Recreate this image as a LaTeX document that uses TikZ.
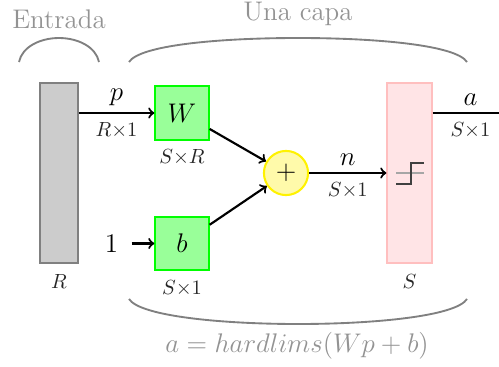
\documentclass[tikz,border=0pt]{standalone}
\usepackage{xcolor}
\usepackage{tikz}
\usetikzlibrary{positioning}
\definecolor{weightgreen}{RGB}{153, 255, 153}
\definecolor{sumyellow}{RGB}{255, 250, 170}
\definecolor{stepred}{RGB}{255, 228, 230}
\newcommand{\bigsize}{\fontsize{14.4}{18}\selectfont}
\newcommand{\smallsize}{\fontsize{10.95}{13}\selectfont}

\begin{document}
\begin{tikzpicture}[
    x=0.0188cm, y=-0.0188cm,
    node distance=0.1cm,
    inputbar/.style={rectangle, draw=gray, line width=1.1pt, fill=gray!40, minimum width=0.7cm, minimum height=3.4cm, inner sep=0pt},
    hardbar/.style={rectangle, draw=red!25, line width=1.1pt, fill=stepred, minimum width=0.83cm, minimum height=3.4cm, inner sep=0pt},
    weightbox/.style={rectangle, draw=green, line width=1.1pt, fill=weightgreen, minimum size=1cm, inner sep=0pt, font=\bigsize},
    sumnode/.style={circle, draw=yellow, line width=1.1pt, fill=sumyellow, minimum size=0.83cm, inner sep=0pt, font=\bigsize},
    arrow/.style={line width=1.15pt, ->},
    sizelabel/.style={font=\smallsize, inner sep=1pt, text=black!85},
    varlabel/.style={font=\bigsize, inner sep=3.5pt},
    greytext/.style={font=\bigsize, text=gray!85, inner sep=0pt},
    bracket/.style={draw=gray, line width=1pt}
]
\useasboundingbox (0,0) rectangle (499,366);

\node[inputbar] (input) at (59,173) {};
\node[weightbox] (W) at (182,113) {$W$};
\node[weightbox] (b) at (182,243.5) {$b$};
\node[sumnode] (plus) at (286,173) {$+$};
\node[hardbar] (hard) at (409.5,173) {};
\node[left=0.43cm of b, font=\bigsize, inner sep=7pt] (one) {$1$};
\coordinate (out) at (499,113);

\node[sizelabel, below=0.15cm of input] (inputsize) {$R$};
\node[sizelabel, below=0.15cm of hard] (hardsize) {$S$};
\node[sizelabel, below=0.13cm of W] (Wsize) {$S{\times}R$};
\node[sizelabel, below=0.13cm of b] (bsize) {$S{\times}1$};

\draw[arrow] (input.east |- W) -- node[varlabel, above] {$p$} node[sizelabel, below=3.5pt] {$R{\times}1$} (W);
\draw[arrow] (one) -- (b);
\draw[arrow] (W) -- (plus);
\draw[arrow] (b) -- (plus);
\draw[arrow] (plus) -- node[varlabel, above] {$n$} node[sizelabel, below=3.5pt] {$S{\times}1$} (plus -| hard.west);
\draw[line width=1.15pt] (hard.east |- out) -- node[pos=0.57, varlabel, above] {$a$} node[pos=0.57, sizelabel, below=3.5pt] {$S{\times}1$} (out);

% step symbol
\draw[gray!70, line width=0.6pt] (396,173) -- (424,173);
\draw[black!75, line width=0.8pt] (396,184) -| (411,163) -- (424,163);

% brackets
\draw[bracket] (19,62) .. controls (22,47) and (40,38) .. (59,38) .. controls (78,38) and (96,47) .. (99,62);
\draw[bracket] (129,62) .. controls (140,45) and (220,38) .. (298,38) .. controls (376,38) and (456,45) .. (467,62);
\draw[bracket] (129,299) .. controls (140,316) and (220,324) .. (298,324) .. controls (376,324) and (456,316) .. (467,299);

\node[greytext] (entrada) at (59,19.5) {Entrada};
\node[greytext] (capa) at (298,14) {Una capa};
\node[greytext] (formula) at (297,346) {$a = hardlims(Wp+b)$};
\end{tikzpicture}
\end{document}
